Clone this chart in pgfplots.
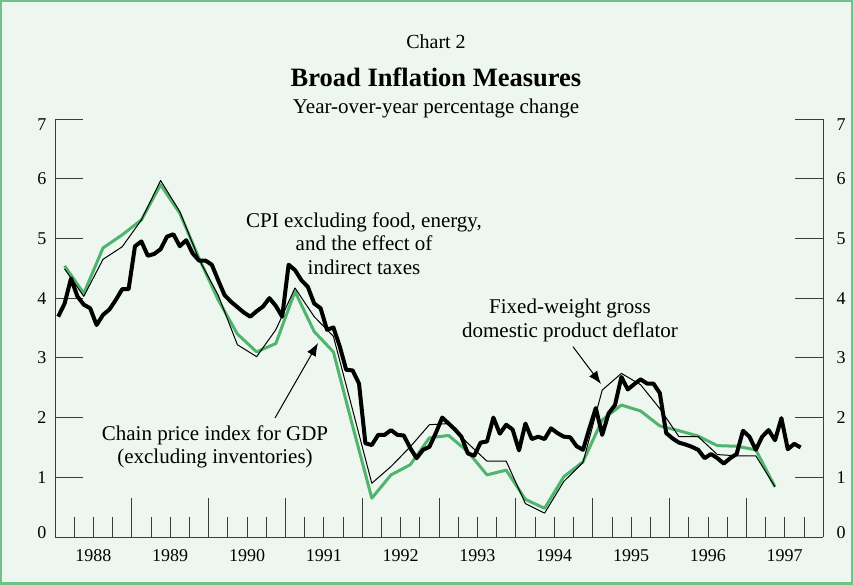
\documentclass[border=0pt]{standalone}
\usepackage{fontspec}
\setmainfont{Liberation Serif}
\usepackage{pgfplots}
\usepackage{pgfplotstable}
\pgfplotsset{compat=1.18}
\usetikzlibrary{arrows.meta}
\definecolor{bgmint}{RGB}{237,247,240}
\definecolor{frameg}{RGB}{110,195,135}
\definecolor{lineg}{RGB}{80,180,110}
\definecolor{axgray}{RGB}{60,60,60}

% CPI excluding food, energy and indirect taxes (monthly, m=0 is Jan 1988)
\pgfplotstableread{
m v
0 3.69
1 3.91
2 4.33
3 4.03
4 3.89
5 3.83
6 3.55
7 3.72
8 3.81
9 3.97
10 4.15
11 4.15
12 4.87
13 4.95
14 4.71
15 4.74
16 4.82
17 5.03
18 5.07
19 4.87
20 4.97
21 4.75
22 4.63
23 4.63
24 4.56
25 4.30
26 4.05
27 3.94
28 3.85
29 3.76
30 3.69
31 3.78
32 3.86
33 4.00
34 3.87
35 3.69
36 4.56
37 4.47
38 4.30
39 4.19
40 3.91
41 3.83
42 3.47
43 3.51
44 3.19
45 2.80
46 2.79
47 2.57
48 1.57
49 1.54
50 1.71
51 1.71
52 1.79
53 1.71
54 1.70
55 1.49
56 1.32
57 1.46
58 1.51
59 1.74
60 2.00
61 1.90
62 1.80
63 1.68
64 1.40
65 1.36
66 1.58
67 1.60
68 2.00
69 1.73
70 1.88
71 1.80
72 1.45
73 1.90
74 1.64
75 1.68
76 1.64
77 1.82
78 1.74
79 1.68
80 1.67
81 1.52
82 1.46
83 1.82
84 2.16
85 1.71
86 2.07
87 2.21
88 2.68
89 2.47
90 2.56
91 2.64
92 2.57
93 2.57
94 2.41
95 1.74
96 1.65
97 1.58
98 1.55
99 1.51
100 1.46
101 1.32
102 1.39
103 1.32
104 1.23
105 1.32
106 1.39
107 1.78
108 1.68
109 1.46
110 1.68
111 1.79
112 1.62
113 1.99
114 1.47
115 1.56
116 1.50
}\cpi

% Chain price index for GDP excl. inventories (quarterly, q=0 is 1988Q1)
\pgfplotstableread{
q v
0 4.54
1 4.08
2 4.84
3 5.06
4 5.31
5 5.90
6 5.42
7 4.67
8 3.97
9 3.40
10 3.10
11 3.24
12 4.11
13 3.44
14 3.10
15 1.86
16 0.65
17 1.04
18 1.21
19 1.66
20 1.70
21 1.43
22 1.04
23 1.12
24 0.63
25 0.48
26 1.01
27 1.26
28 1.96
29 2.21
30 2.11
31 1.86
32 1.78
33 1.69
34 1.53
35 1.52
36 1.46
37 0.84
}\chain

% Fixed-weight GDP deflator (quarterly)
\pgfplotstableread{
q v
0 4.49
1 4.03
2 4.65
3 4.86
4 5.31
5 5.97
6 5.45
7 4.65
8 4.05
9 3.22
10 3.02
11 3.47
12 4.17
13 3.69
14 3.36
15 2.13
16 0.90
17 1.18
18 1.51
19 1.88
20 1.90
21 1.57
22 1.27
23 1.27
24 0.56
25 0.40
26 0.93
27 1.25
28 2.46
29 2.74
30 2.55
31 2.15
32 1.68
33 1.68
34 1.38
35 1.36
36 1.36
37 0.84
}\fixed

\newcommand\annfont{\fontsize{21}{24}\selectfont}
\newcommand\tickfont{\fontsize{18}{20}\selectfont}
\newcommand\ylabs{{\raisebox{-1.1pt}[0pt][0pt]{0}},1,2,3,4,5,6,{\raisebox{-11.1pt}[0pt][0pt]{7}}}

\begin{document}
\begin{tikzpicture}[x=1pt,y=1pt]
\useasboundingbox (0,0) rectangle (853,584);
\fill[bgmint] (0,0) rectangle (853,584);
\draw[frameg, line width=4pt] (0,0) rectangle (853,584);

\pgfplotsset{common/.style={at={(55pt,47pt)}, anchor=south west, scale only axis,
  width=768pt, height=418pt, xmin=1988, xmax=1998, ymin=0, ymax=7, clip=false,
  /pgf/number format/assume math mode=true,
  axis line style={axgray, line width=1pt},
  tick style={axgray, line width=1pt}, tick align=inside}}

% x ticks and bottom line
\begin{axis}[common, axis x line*=bottom, axis y line=none,
  xtick={1989,1990,1991,1992,1993,1994,1995,1996,1997}, xticklabels={},
  minor xtick={1988.25,1988.5,...,1997.8},
  major tick length=39pt, minor tick length=20pt]
\end{axis}

% labels: years and right y labels
\begin{axis}[common, axis x line*=bottom, axis y line*=right,
  axis line style={draw=none}, tick style={draw=none}, major tick length=0pt,
  xtick={1988.5,1989.5,1990.5,1991.5,1992.5,1993.5,1994.5,1995.5,1996.5,1997.5},
  xticklabels={1988,1989,1990,1991,1992,1993,1994,1995,1996,1997},
  xticklabel style={font=\tickfont, yshift=-9pt},
  ytick={0,1,2,3,4,5,6,7},
  yticklabels={{\raisebox{-1.1pt}[0pt][0pt]{0}},1,2,3,4,5,6,{\raisebox{-11.1pt}[0pt][0pt]{7}}},
  yticklabel style={font=\tickfont, xshift=10pt}]
\end{axis}

% y axis lines, y ticks, data
\begin{axis}[common, axis x line=none, axis y line*=box,
  ytick={0,1,2,3,4,5,6,7},
  yticklabels={{\raisebox{-1.1pt}[0pt][0pt]{0}},1,2,3,4,5,6,{\raisebox{-11.1pt}[0pt][0pt]{7}}},
  major tick length=28pt,
  yticklabel style={font=\tickfont, xshift=-5pt}]
\addplot[lineg, line width=3pt, line join=round, mark=none]
  table[x expr={1988.125+0.25*\thisrow{q}}, y=v] {\chain};
\addplot[black, line width=1pt, line join=round, mark=none]
  table[x expr={1988.125+0.25*\thisrow{q}}, y=v] {\fixed};
\addplot[black, line width=4pt, line join=round, mark=none]
  table[x expr={1988+(\thisrow{m}+0.5)/12}, y=v] {\cpi};
\end{axis}

% titles
\node[anchor=base] at (436,535) {\fontsize{20}{24}\selectfont Chart 2};
\node[anchor=base] at (436,497) {\fontsize{26.5}{30}\selectfont\bfseries Broad Inflation Measures};
\node[anchor=base] at (436,470) {\annfont Year-over-year percentage change};

% annotations
\node[anchor=base] at (364,356.7) {\annfont CPI excluding food, energy,};
\node[anchor=base] at (364,333.3) {\annfont and the effect of};
\node[anchor=base] at (364,309) {\annfont indirect taxes};

\node[anchor=base] at (570,270.7) {\annfont Fixed-weight gross};
\node[anchor=base] at (570,246.7) {\annfont domestic product deflator};
\draw[black, line width=1pt, -{Latex[length=13pt,width=10pt]}] (573,237.3) -- (601,200);

\node[anchor=base] at (215,144) {\annfont Chain price index for GDP};
\node[anchor=base] at (215,120.7) {\annfont (excluding inventories)};
\draw[black, line width=1pt, -{Latex[length=13pt,width=10pt]}] (275,166) -- (318,241);
\end{tikzpicture}
\end{document}
